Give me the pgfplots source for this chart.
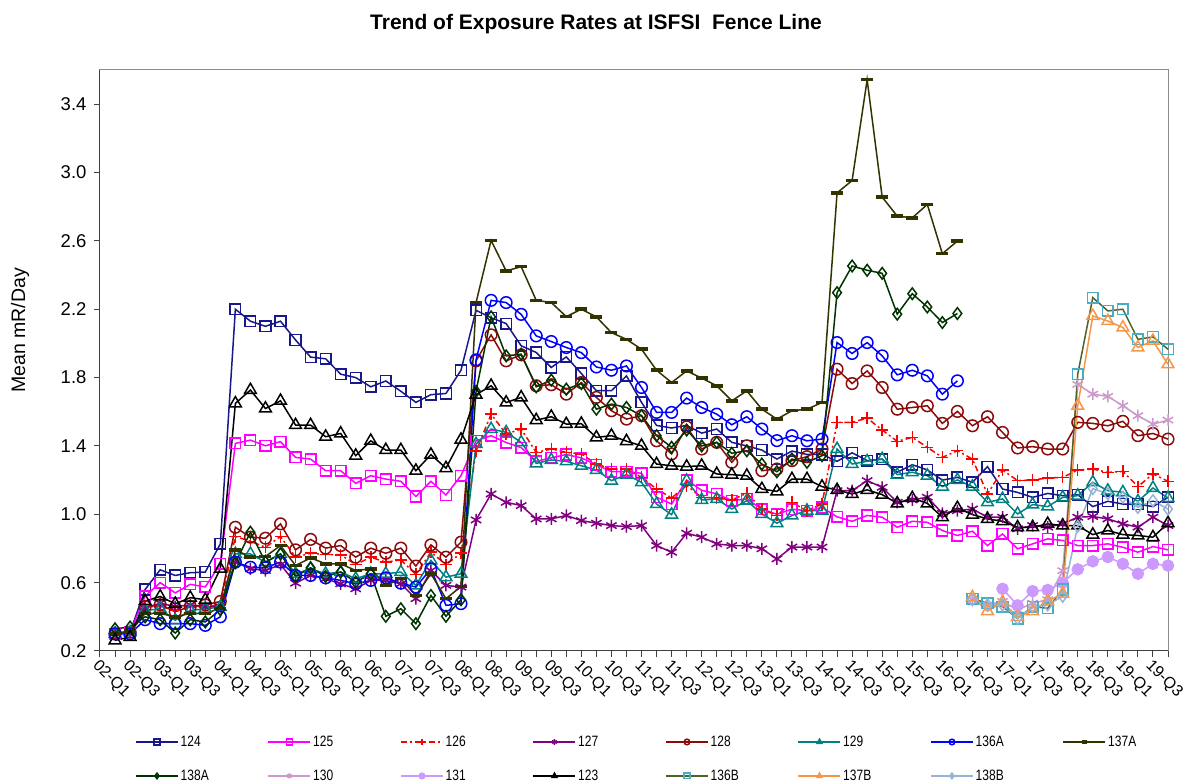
\documentclass[border=0pt]{standalone}
\usepackage{pgfplots}
\usepackage{pgfplotstable}
\pgfplotsset{compat=1.18}
\usepackage{fontspec}
\setmainfont{Liberation Sans}
\newfontfamily\legfont[FakeStretch=0.8]{Liberation Sans}
\definecolor{c124}{RGB}{24,24,140}
\definecolor{c125}{RGB}{255,0,255}
\definecolor{c126}{RGB}{255,0,0}
\definecolor{c127}{RGB}{128,0,128}
\definecolor{c128}{RGB}{140,10,10}
\definecolor{c129}{RGB}{0,128,128}
\definecolor{c136A}{RGB}{0,0,255}
\definecolor{c137A}{RGB}{51,51,0}
\definecolor{c138A}{RGB}{0,51,0}
\definecolor{c130}{RGB}{204,153,204}
\definecolor{c131}{RGB}{204,153,255}
\definecolor{c123}{RGB}{0,0,0}
\definecolor{c136Bl}{RGB}{79,98,40}
\definecolor{c136Bm}{RGB}{75,172,198}
\definecolor{c137B}{RGB}{247,150,70}
\definecolor{c138B}{RGB}{149,179,215}
\newcommand{\LE}[1]{\makebox[85pt][l]{#1}}
\pgfplotstableread{
i s124 s125 s126 s127 s128 s129 s136A s137A s138A s130 s131 s123 s136B s137B s138B
0 0.30 0.30 0.30 0.31 0.30 0.30 0.30 0.30 0.33 nan nan 0.262 nan nan nan
1 0.31 0.31 0.31 0.31 0.31 0.31 0.30 0.31 0.34 nan nan 0.282 nan nan nan
2 0.56 0.52 0.46 0.45 0.46 0.437 0.383 0.42 0.40 nan nan 0.492 nan nan nan
3 0.675 0.60 0.46 0.48 0.47 0.447 0.36 0.42 0.383 nan nan 0.519 nan nan nan
4 0.642 0.54 0.44 0.46 0.43 0.38 0.36 0.40 0.305 nan nan 0.476 nan nan nan
5 0.658 0.59 0.46 0.47 0.46 0.437 0.36 0.42 0.383 nan nan 0.512 nan nan nan
6 0.662 0.575 0.46 0.46 0.47 0.447 0.35 0.42 0.37 nan nan 0.50 nan nan nan
7 0.827 0.71 0.47 0.46 0.49 0.457 0.40 0.45 0.441 nan nan 0.681 nan nan nan
8 2.20 1.415 0.87 0.72 0.924 0.768 0.72 0.792 0.716 nan nan 1.649 nan nan nan
9 2.13 1.434 0.842 0.681 0.866 0.768 0.69 0.749 0.895 nan nan 1.727 nan nan nan
10 2.10 1.401 0.807 0.671 0.86 0.72 0.687 0.753 0.72 nan nan 1.619 nan nan nan
11 2.13 1.425 0.87 0.706 0.944 0.768 0.72 0.817 0.768 nan nan 1.664 nan nan nan
12 2.02 1.333 0.749 0.597 0.792 0.652 0.642 0.70 0.636 nan nan 1.522 nan nan nan
13 1.92 1.323 0.772 0.642 0.853 0.681 0.642 0.745 0.687 nan nan 1.522 nan nan nan
14 1.91 1.255 0.765 0.623 0.802 0.652 0.628 0.71 0.636 nan nan 1.454 nan nan nan
15 1.82 1.255 0.763 0.593 0.817 0.662 0.613 0.71 0.662 nan nan 1.473 nan nan nan
16 1.80 1.181 0.706 0.564 0.749 0.623 0.593 0.671 0.603 nan nan 1.343 nan nan nan
17 1.746 1.226 0.749 0.613 0.802 0.652 0.613 0.681 0.652 nan nan 1.43 nan nan nan
18 1.78 1.206 0.72 0.613 0.772 0.652 0.628 0.584 0.403 nan nan 1.376 nan nan nan
19 1.72 1.193 0.733 0.593 0.802 0.662 0.597 0.623 0.447 nan nan 1.376 nan nan nan
20 1.655 1.104 0.648 0.506 0.697 0.584 0.574 0.525 0.36 nan nan 1.255 nan nan nan
21 1.70 1.193 0.778 0.671 0.821 0.73 0.681 0.652 0.525 nan nan 1.349 nan nan nan
22 1.707 1.113 0.706 0.584 0.749 0.632 0.467 0.506 0.403 nan nan 1.27 nan nan nan
23 1.843 1.226 0.772 0.574 0.837 0.652 0.477 0.577 0.50 nan nan 1.437 nan nan nan
24 2.194 1.43 1.37 0.967 1.898 1.411 1.904 2.239 1.719 nan nan 1.70 nan nan nan
25 2.15 1.46 1.586 1.119 2.05 1.499 2.252 2.603 2.155 nan nan 1.752 nan nan nan
26 2.116 1.42 1.47 1.07 1.898 1.48 2.239 2.424 1.927 nan nan 1.654 nan nan nan
27 1.986 1.39 1.499 1.051 1.933 1.421 2.17 2.449 1.937 nan nan 1.684 nan nan nan
28 1.947 1.31 1.362 0.973 1.752 1.298 2.044 2.252 1.746 nan nan 1.551 nan nan nan
29 1.859 1.33 1.382 0.973 1.758 1.318 2.011 2.239 1.785 nan nan 1.571 nan nan nan
30 1.921 1.35 1.362 0.993 1.703 1.31 1.976 2.157 1.732 nan nan 1.528 nan nan nan
31 1.824 1.33 1.353 0.963 1.771 1.284 1.946 2.20 1.765 nan nan 1.53 nan nan nan
32 1.723 1.29 1.294 0.948 1.684 1.259 1.862 2.155 1.615 nan nan 1.45 nan nan nan
33 1.723 1.25 1.265 0.934 1.606 1.197 1.843 2.063 1.645 nan nan 1.46 nan nan nan
34 1.81 1.25 1.265 0.928 1.557 1.232 1.868 2.024 1.625 nan nan 1.428 nan nan nan
35 1.655 1.24 1.216 0.934 1.577 1.187 1.742 1.966 1.577 nan nan 1.401 nan nan nan
36 1.52 1.10 1.148 0.817 1.43 1.06 1.596 1.843 1.46 nan nan 1.294 nan nan nan
37 1.505 1.06 1.096 0.778 1.353 0.998 1.596 1.771 1.392 nan nan 1.284 nan nan nan
38 1.52 1.20 1.168 0.889 1.512 1.197 1.68 1.839 1.493 nan nan 1.279 nan nan nan
39 1.475 1.14 1.099 0.866 1.382 1.084 1.625 1.797 1.40 nan nan 1.284 nan nan nan
40 1.499 1.12 1.096 0.827 1.421 1.089 1.586 1.752 1.421 nan nan 1.236 nan nan nan
41 1.421 1.08 1.084 0.817 1.304 1.031 1.524 1.664 1.357 nan nan 1.232 nan nan nan
42 1.40 1.09 1.123 0.817 1.401 1.08 1.571 1.722 1.372 nan nan 1.226 nan nan nan
43 1.376 1.03 1.031 0.798 1.255 1.002 1.499 1.615 1.294 nan nan 1.148 nan nan nan
44 1.323 1.00 0.993 0.739 1.265 0.948 1.431 1.557 1.249 nan nan 1.134 nan nan nan
45 1.37 1.03 1.07 0.808 1.314 0.993 1.46 1.606 1.323 nan nan 1.206 nan nan nan
46 1.35 1.02 1.021 0.808 1.337 1.021 1.43 1.615 1.304 nan nan 1.206 nan nan nan
47 1.35 1.04 1.06 0.808 1.382 1.021 1.44 1.654 1.343 nan nan 1.162 nan nan nan
48 1.31 0.985 1.538 1.138 1.849 1.382 2.005 2.881 2.297 nan nan 1.142 nan nan nan
49 1.36 0.959 1.538 1.138 1.765 1.294 1.941 2.953 2.453 nan nan 1.119 nan nan nan
50 1.314 0.993 1.563 1.197 1.839 1.31 2.005 3.543 2.428 nan nan 1.143 nan nan nan
51 1.323 0.983 1.493 1.158 1.742 1.323 1.927 2.856 2.41 nan nan 1.115 nan nan nan
52 1.246 0.924 1.427 1.07 1.615 1.232 1.816 2.745 2.171 nan nan 1.064 nan nan nan
53 1.29 0.959 1.45 1.084 1.625 1.246 1.843 2.735 2.291 nan nan 1.095 nan nan nan
54 1.26 0.953 1.392 1.10 1.635 1.226 1.81 2.813 2.213 nan nan 1.064 nan nan nan
55 1.20 0.905 1.333 1.006 1.532 1.162 1.703 2.525 2.122 nan nan 0.983 nan nan nan
56 1.216 0.876 1.372 1.021 1.602 1.201 1.781 2.599 2.175 nan nan 1.037 nan nan nan
57 1.187 0.901 1.323 1.031 1.518 1.162 nan nan nan 0.50 nan 0.998 0.506 0.515 0.50
58 1.279 0.817 1.119 0.983 1.571 1.07 nan nan nan 0.47 nan 0.973 0.48 0.433 0.47
59 1.148 0.885 1.259 0.983 1.479 1.09 nan nan nan 0.49 0.564 0.959 0.46 0.486 0.47
60 1.128 0.798 1.197 0.915 1.388 1.002 nan nan nan 0.44 0.467 0.924 0.39 0.399 0.39
61 1.099 0.827 1.201 0.934 1.396 1.057 nan nan nan 0.48 0.55 0.924 0.46 0.433 0.46
62 1.122 0.856 1.212 0.925 1.382 1.045 nan nan nan 0.50 0.557 0.944 0.45 0.492 0.47
63 1.109 0.847 1.216 0.944 1.382 1.099 nan nan nan 0.67 0.60 0.934 0.56 0.535 0.52
64 1.115 0.817 1.259 0.983 1.538 1.109 nan nan nan 1.76 0.678 0.934 1.82 1.635 0.93
65 1.045 0.817 1.265 0.987 1.532 1.187 nan nan nan 1.703 0.725 0.881 2.268 2.161 1.15
66 1.076 0.827 1.245 0.973 1.518 1.138 nan nan nan 1.69 0.75 0.905 2.19 2.131 1.12
67 1.06 0.807 1.251 0.944 1.544 1.129 nan nan nan 1.635 0.71 0.881 2.20 2.093 1.10
68 1.06 0.778 1.162 0.925 1.46 1.076 nan nan nan 1.577 0.652 0.876 2.024 1.976 1.04
69 1.045 0.811 1.236 0.983 1.473 1.154 nan nan nan 1.528 0.71 0.866 2.038 2.015 1.08
70 1.099 0.792 1.193 0.934 1.44 1.095 nan nan nan 1.551 0.70 0.948 1.966 1.878 1.03
}\data
\begin{document}
\begin{tikzpicture}
\path[use as bounding box] (-100pt,-132pt) rectangle (1092pt,651pt);
\begin{axis}[
  scale only axis, width=1068pt, height=581pt,
  xmin=-1, xmax=70, ymin=0.2, ymax=3.6,
  unbounded coords=jump, clip=false,
  ytick={0.2,0.6,1.0,1.4,1.8,2.2,2.6,3.0,3.4},
  yticklabel style={/pgf/number format/fixed, /pgf/number format/fixed zerofill, /pgf/number format/precision=1, xshift=-4pt, font=\fontsize{18.5}{20}\selectfont},
  /pgf/number format/assume math mode=true,
  xtick={0,2,...,70},
  minor xtick={-1,1,...,69},
  xticklabels={02-Q1,02-Q3,03-Q1,03-Q3,04-Q1,04-Q3,05-Q1,05-Q3,06-Q1,06-Q3,07-Q1,07-Q3,08-Q1,08-Q3,09-Q1,09-Q3,10-Q1,10-Q3,11-Q1,11-Q3,12-Q1,12-Q3,13-Q1,13-Q3,14-Q1,14-Q3,15-Q1,15-Q3,16-Q1,16-Q3,17-Q1,17-Q3,18-Q1,18-Q3,19-Q1,19-Q3},
  xticklabel style={yshift=-22pt, xshift=-4pt, rotate=-45, anchor=center, font=\fontsize{16}{17}\selectfont},
  tick align=outside, tick pos=left,
  major tick length=6pt, minor tick length=6pt,
  every tick/.style={black!75, line width=1pt},
  axis line style={black!45, line width=1pt},
  title={Trend of Exposure Rates at ISFSI\ \ Fence Line},
  title style={font=\fontsize{21}{23}\selectfont\bfseries, at={(axis description cs:0.4644,1)}, anchor=center, yshift=40pt},
  ylabel={Mean mR/Day},
  ylabel style={font=\fontsize{19.5}{21}\selectfont, at={(axis description cs:-0.0749,0.5516)}, anchor=center, rotate=0},
  legend columns=8,
  legend cell align=left,
  legend style={at={(axis description cs:0.0328,-0.1425)}, anchor=north west, draw=none, fill=none, font=\legfont\fontsize{15}{16}\selectfont, inner sep=0pt, row sep=18pt, column sep=0pt, nodes={inner sep=2pt}},
  legend image code/.code={\draw[mark repeat=2,mark phase=2,#1] plot coordinates {(0pt,0pt) (21pt,0pt) (42pt,0pt)};},
  legend image post style={mark size=2.8pt},
  every axis plot/.append style={line width=1.5pt, mark size=5.3pt},
]
\addplot[c124, mark=square, mark options={fill=white, solid}] table[x=i,y=s124]{\data};
\addlegendentry{\LE{124}}
\addplot[c125, mark=square, mark options={fill=white, solid}] table[x=i,y=s125]{\data};
\addlegendentry{\LE{125}}
\addplot[c126, dash pattern=on 6pt off 3pt on 2pt off 3pt, mark=+, mark size=6pt, mark options={solid}] table[x=i,y=s126]{\data};
\addlegendentry{\LE{126}}
\addplot[c127, mark=asterisk, mark size=6pt, mark options={solid}] table[x=i,y=s127]{\data};
\addlegendentry{\LE{127}}
\addplot[c128, mark=o, mark size=5.8pt, mark options={fill=white, solid}] table[x=i,y=s128]{\data};
\addlegendentry{\LE{128}}
\addplot[c129, mark=triangle, mark size=6.8pt, mark options={fill=white, solid}] table[x=i,y=s129]{\data};
\addlegendentry{\LE{129}}
\addplot[c136A, mark=o, mark size=5.8pt, mark options={fill=white, solid}] table[x=i,y=s136A]{\data};
\addlegendentry{\LE{136A}}
\addplot[c137A, mark=-, mark size=6pt, mark options={line width=3.5pt, solid}] table[x=i,y=s137A]{\data};
\addlegendentry{\LE{137A}}
\addplot[c138A, mark=diamond, mark size=5.8pt, mark options={fill=white, solid}] table[x=i,y=s138A]{\data};
\addlegendentry{\LE{138A}}
\addplot[c130, mark=asterisk, mark size=6pt, mark options={solid}] table[x=i,y=s130]{\data};
\addlegendentry{\LE{130}}
\addplot[c131, mark=*, mark size=5.5pt, mark options={solid}] table[x=i,y=s131]{\data};
\addlegendentry{\LE{131}}
\addplot[c123, mark=triangle, mark size=6.8pt, mark options={fill=white, solid}] table[x=i,y=s123]{\data};
\addlegendentry{\LE{123}}
\addplot[c136Bl, mark=square, mark options={draw=c136Bm, fill=white, solid}] table[x=i,y=s136B]{\data};
\addlegendentry{\LE{136B}}
\addplot[c137B, mark=triangle, mark size=6.8pt, mark options={fill=white, solid}] table[x=i,y=s137B]{\data};
\addlegendentry{\LE{137B}}
\addplot[c138B, mark=diamond, mark size=5.8pt, mark options={fill=white, solid}] table[x=i,y=s138B]{\data};
\addlegendentry{\LE{138B}}
\draw[black!75, line width=1pt] (rel axis cs:0,1) -- (rel axis cs:0,0) -- (rel axis cs:1,0);
\end{axis}
\end{tikzpicture}
\end{document}
